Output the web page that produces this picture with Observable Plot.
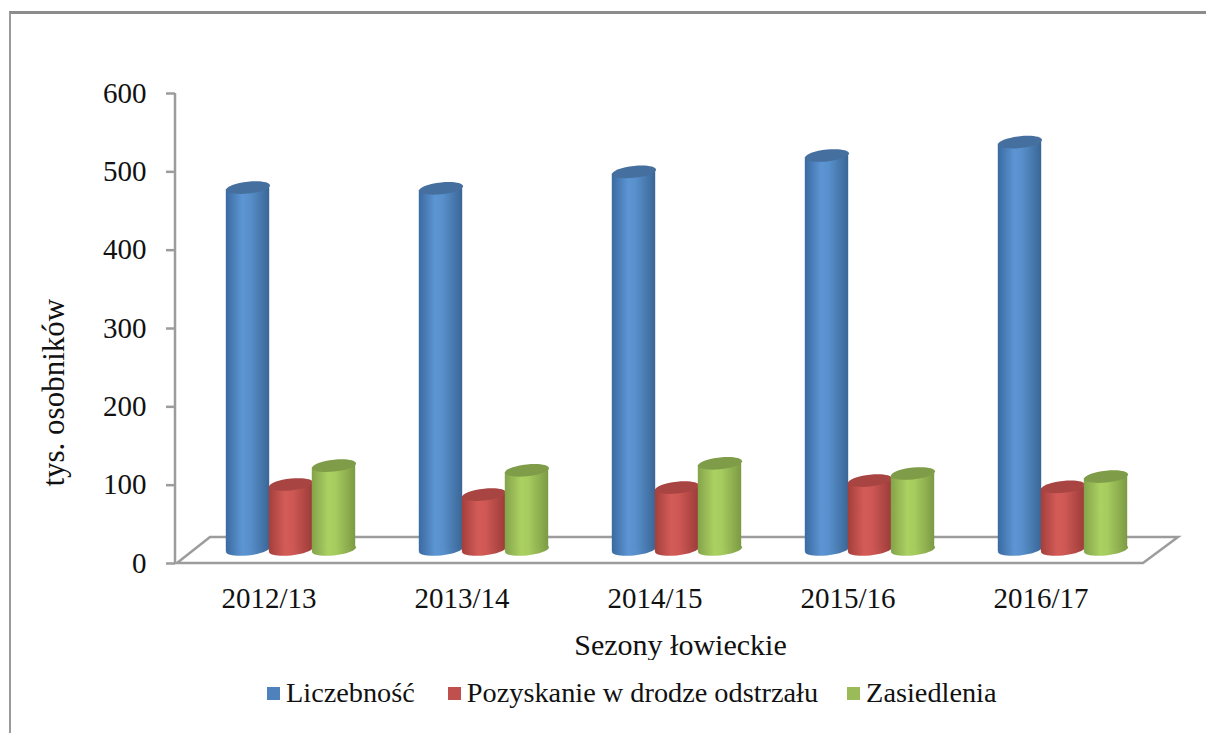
<!DOCTYPE html>
<html lang="pl">
<head>
<meta charset="utf-8">
<script src="https://cdn.jsdelivr.net/npm/d3@7"></script>
<script src="https://cdn.jsdelivr.net/npm/@observablehq/plot@0.6"></script>
<style>
  html, body { margin: 0; padding: 0; background: #fff; width: 1206px; height: 733px; overflow: hidden; }
  #frame { position: absolute; left: 9px; top: 11px; right: -10px; bottom: -10px; border-top: 3px solid #8c8c8c; border-left: 2px solid #9a9a9a; pointer-events: none; }
  #chart { position: absolute; left: 0; top: 0; }
  #legend { position: absolute; left: 267px; top: 675px; display: flex; align-items: center; font: 28.3px "Liberation Serif", serif; color: #111; white-space: nowrap; line-height: 36px; }
  #legend .sw { width: 13px; height: 13px; margin-right: 6px; display: inline-block; }
  #legend .it { display: flex; align-items: center; }
</style>
</head>
<body>
<div id="frame"></div>
<div id="chart"></div>
<div id="legend"></div>
<script>
const seasons = ["2012/13", "2013/14", "2014/15", "2015/16", "2016/17"];
const seriesNames = ["Liczebność", "Pozyskanie w drodze odstrzału", "Zasiedlenia"];
const liczebnosc = [462, 461, 482, 503, 520];
const pozyskanie = [83, 70, 79, 88, 80];
const zasiedlenia = [107, 101, 110, 97, 93];
const seriesValues = [liczebnosc, pozyskanie, zasiedlenia];
const yTicks = [0, 100, 200, 300, 400, 500, 600];

const legendColors = ["#4f81bd", "#c0504d", "#9bbb59"];
const legendGaps = [33, 29, 0];
const topColors = ["#456f9e", "#a84542", "#7f9c48"];
const gradients = [
  ["#3a6aa0", "#5d95d4", "#5890cc", "#3a6696"],
  ["#a33f3c", "#d45c58", "#cf5854", "#9c3c39"],
  ["#84a34a", "#abd162", "#a6cb5e", "#7c9a44"]
];

// 3D look of the original: floor depth, the bar row's place on it, and the slight tilt of the cylinders
const floorDx = 35, floorDy = 26, rowDy = 14, rowDx = 17, barStep = 43, barWidth = 44, tilt = 0.1;
const plotWidth = 1206, marginLeft = 175, marginRight = 63;
const bandInset = ((plotWidth - marginLeft - marginRight) / seasons.length - barWidth) / 2;

const ellipse = {
  draw(ctx, size) {
    const rx = Math.sqrt(size / Math.PI), ry = rx * 0.27, k = 0.5523;
    const P = (x, y) => [x, y - tilt * x];
    ctx.moveTo(...P(-rx, 0));
    ctx.bezierCurveTo(...P(-rx, -ry * k), ...P(-rx * k, -ry), ...P(0, -ry));
    ctx.bezierCurveTo(...P(rx * k, -ry), ...P(rx, -ry * k), ...P(rx, 0));
    ctx.bezierCurveTo(...P(rx, ry * k), ...P(rx * k, ry), ...P(0, ry));
    ctx.bezierCurveTo(...P(-rx * k, ry), ...P(-rx, ry * k), ...P(-rx, 0));
    ctx.closePath();
  }
};

const gradientDefs = () => {
  const ns = "http://www.w3.org/2000/svg";
  const defs = document.createElementNS(ns, "defs");
  gradients.forEach((stops, i) => {
    const g = document.createElementNS(ns, "linearGradient");
    g.setAttribute("id", "cyl" + i);
    [0, 0.38, 0.55, 1].forEach((o, j) => {
      const s = document.createElementNS(ns, "stop");
      s.setAttribute("offset", o);
      s.setAttribute("stop-color", stops[j]);
      g.appendChild(s);
    });
    defs.appendChild(g);
  });
  return defs;
};

const floor = (index, scales, values, dimensions) => {
  const ns = "http://www.w3.org/2000/svg";
  const x0 = dimensions.marginLeft;
  const x1 = dimensions.width - dimensions.marginRight;
  const y0 = scales.y(0), yT = scales.y(600);
  const p = document.createElementNS(ns, "path");
  p.setAttribute("d",
    `M${x0},${yT}V${y0}H${x1}L${x1 + floorDx},${y0 - floorDy}H${x0 + floorDx}L${x0 + 2},${y0}`);
  p.setAttribute("fill", "none");
  p.setAttribute("stroke", "#9c9c9c");
  p.setAttribute("stroke-width", 2.5);
  return p;
};

// shears each bar about its own centre so that it meets the tilted ellipses
const tiltBars = (index, scales, values, dimensions, context, next) => {
  const g = next(index, scales, values, dimensions, context);
  g.querySelectorAll("rect").forEach(r => {
    const cx = +r.getAttribute("x") + (+r.getAttribute("width")) / 2;
    r.setAttribute("transform", `translate(${cx},0) matrix(1,${-tilt},0,1,0,0) translate(${-cx},0)`);
  });
  return g;
};

const rows = seriesValues.map(vals => seasons.map((s, i) => ({ season: s, value: vals[i] })));
const cylMarks = rows.flatMap((data, i) => {
  const dx = rowDx + (i - 1) * barStep;
  const base = { x: "season", dx, dy: -rowDy };
  return [
    Plot.dot(data, { ...base, y: () => 0, r: barWidth / 2, symbol: ellipse, fill: `url(#cyl${i})`, stroke: "none" }),
    Plot.barY(data, { ...base, y: "value", fill: `url(#cyl${i})`, insetLeft: bandInset, insetRight: bandInset, render: tiltBars }),
    Plot.dot(data, { ...base, y: "value", r: barWidth / 2, symbol: ellipse, fill: topColors[i], stroke: "none" })
  ];
});

const chart = Plot.plot({
  width: plotWidth,
  height: 660,
  marginLeft,
  marginRight,
  marginTop: 93,
  marginBottom: 97,
  style: { fontFamily: "'Liberation Serif', serif", fontSize: "29px", color: "#111", background: "transparent" },
  x: { type: "band", domain: seasons, padding: 0, label: null },
  y: { domain: [0, 600], label: null },
  marks: [
    gradientDefs,
    floor,
    Plot.axisY({ ticks: yTicks, tickSize: 9, tickPadding: 20, stroke: "#9c9c9c", strokeWidth: 2.5, fill: "#111", label: null }),
    Plot.axisX({ tickSize: 0, tickPadding: 24, dx: -5, fill: "#111", label: null }),
    ...cylMarks,
    Plot.text(["tys. osobników"], { text: d => d, frameAnchor: "left", y: () => 218, dx: -121, rotate: -90, fill: "#111", textAnchor: "middle", fontSize: 31 }),
    Plot.text(["Sezony łowieckie"], { text: d => d, frameAnchor: "bottom", dx: 21, dy: 91, fill: "#111", fontSize: 30 })
  ]
});
document.getElementById("chart").appendChild(chart);

const legend = document.getElementById("legend");
seriesNames.forEach((name, i) => {
  const it = document.createElement("span");
  it.className = "it";
  it.style.marginRight = legendGaps[i] + "px";
  const sw = document.createElement("span");
  sw.className = "sw";
  sw.style.background = legendColors[i];
  it.appendChild(sw);
  it.appendChild(document.createTextNode(name));
  legend.appendChild(it);
});
</script>
</body>
</html>
